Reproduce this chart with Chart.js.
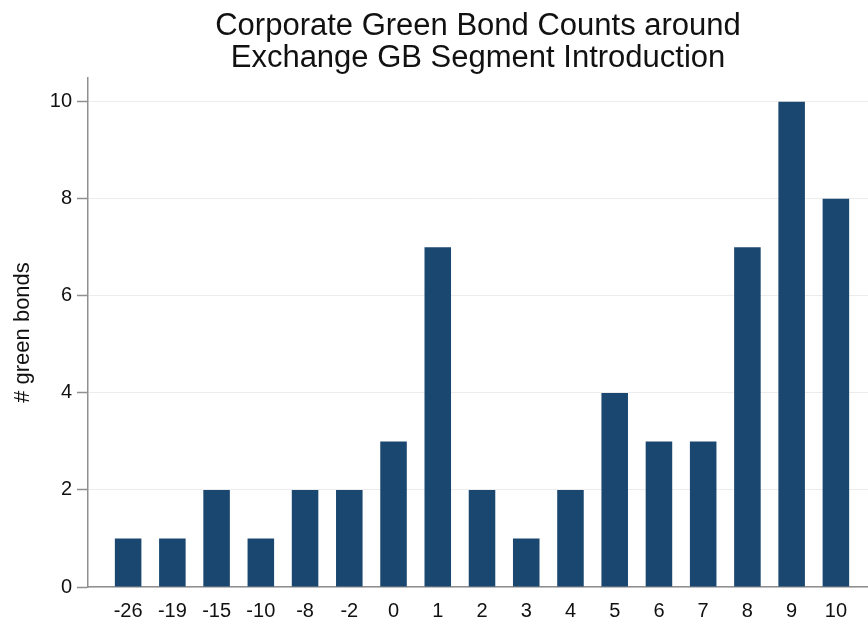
<!DOCTYPE html>
<html>
<head>
<meta charset="utf-8">
<title>Corporate Green Bond Counts</title>
<script src="https://cdn.jsdelivr.net/npm/chart.js@4.4.1/dist/chart.umd.min.js"></script>
<style>
  html, body { margin: 0; padding: 0; background: #fff; }
  #wrap { width: 868px; height: 620px; }
</style>
</head>
<body>
<div id="wrap"><canvas id="bondChart" width="868" height="620"></canvas></div>
<script>
// event time relative to exchange GB segment introduction
const periods = ['-26', '-19', '-15', '-10', '-8', '-2', '0', '1', '2', '3', '4', '5', '6', '7', '8', '9', '10'];
const bondCounts = [1, 1, 2, 1, 2, 2, 3, 7, 2, 1, 2, 4, 3, 3, 7, 10, 8];
const yTicks = [0, 2, 4, 6, 8, 10];

const navy = '#1a476f';
const axisGray = '#8f8f8f';
const FONT = "'Liberation Sans', Arial, sans-serif";

const ctx = document.getElementById('bondChart').getContext('2d');
new Chart(ctx, {
  type: 'bar',
  data: {
    datasets: [{
      label: '# green bonds',
      data: bondCounts.map((v, i) => ({ x: i, y: v })),
      backgroundColor: navy,
      borderWidth: 0,
      barPercentage: 0.6,
      categoryPercentage: 1
    }]
  },
  options: {
    responsive: false,
    animation: false,
    devicePixelRatio: 1,
    layout: { padding: 0 },
    plugins: {
      legend: { display: false },
      tooltip: { enabled: false },
      title: {
        display: true,
        fullSize: false,
        text: ['Corporate Green Bond Counts around', 'Exchange GB Segment Introduction'],
        color: '#111',
        font: { family: FONT, size: 31, weight: 'normal', lineHeight: 1.032 },
        padding: { top: 10, bottom: 4 }
      }
    },
    scales: {
      x: {
        type: 'linear',
        offset: false,
        min: -0.907,
        max: 16.726,
        afterBuildTicks: axis => { axis.ticks = periods.map((p, i) => ({ value: i })); },
        afterFit: scale => { scale.height = 33; },
        ticks: {
          callback: v => periods[v],
          color: '#111',
          font: { family: FONT, size: 20 },
          padding: 12,
          maxRotation: 0,
          autoSkip: false
        },
        grid: { display: false, drawTicks: false },
        border: { display: true, color: axisGray, width: 1.5 }
      },
      y: {
        min: 0,
        max: 10.49,
        afterBuildTicks: axis => { axis.ticks = yTicks.map(v => ({ value: v })); },
        afterFit: scale => { scale.width = 88; },
        ticks: {
          color: '#111',
          font: { family: FONT, size: 20 },
          padding: 5
        },
        grid: {
          color: '#ececec',
          lineWidth: 1,
          tickLength: 11,
          tickColor: axisGray,
          tickWidth: 1.5
        },
        border: { display: true, color: axisGray, width: 1.5 },
        title: {
          display: true,
          text: '# green bonds',
          color: '#111',
          font: { family: FONT, size: 22 },
          padding: { top: 10, bottom: 0 }
        }
      }
    }
  }
});
</script>
</body>
</html>
